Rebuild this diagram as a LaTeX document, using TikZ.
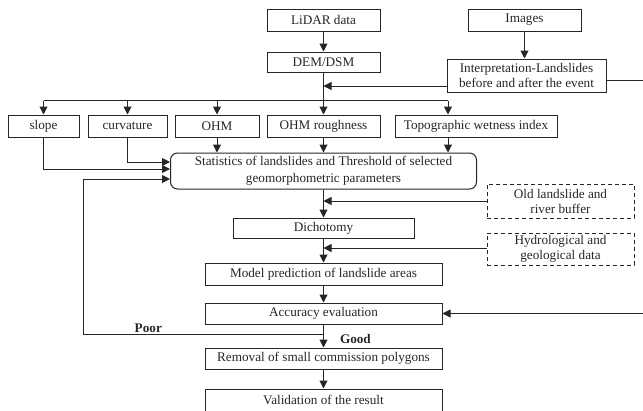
\documentclass[tikz,border=0pt]{standalone}
\usepackage{fontspec}
\setmainfont{Liberation Serif}
\usetikzlibrary{arrows.meta, positioning, calc}

\begin{document}
\begin{tikzpicture}[
    x=1pt, y=-1pt,
    >={Triangle[length=8pt,width=8pt]},
    node distance=20pt and 7pt,
    font=\fontsize{13.2}{15}\selectfont,
    % Standard Box Style
    box/.style={draw=black!85, rectangle, line width=1pt, minimum height=22pt, inner sep=2pt, align=center, text=black!85},
    % Statistics Box Style (rounded)
    roundbox/.style={box, rounded corners=7pt},
    % Auxiliary Data Style (dashed)
    aux/.style={box, dash pattern=on 4pt off 3pt},
    % Connector Styles
    link/.style={line width=1pt, draw=black!85},
    flow/.style={link, ->},
    % Decision Label Style
    lbl/.style={font=\fontsize{13.2}{15}\selectfont\bfseries, text=black!85, inner sep=1pt}
]

\path[use as bounding box, clip] (0,0) rectangle (643,410);

% ================= Nodes =================

% 1. Data sources (Top Row)
\node[box, minimum width=113pt] (lidar) at (323.5,20) {LiDAR data};
\node[box, minimum width=113pt, minimum height=20pt, below=20pt of lidar] (dem) {DEM/DSM};
\node[box, minimum width=113pt] (images) at (524.5,20) {Images};
\node[box, minimum width=159pt, minimum height=33pt, below=27pt of images, xshift=2pt] (interp) {Interpretation-Landslides\\before and after the event};

% 2. Geomorphometric parameters (Second Row)
\node[box, minimum width=113pt] (ohmr) at (323.5,126) {OHM roughness};
\node[box, minimum width=84pt, left=of ohmr] (ohm) {OHM};
\node[box, minimum width=79pt, left=of ohm] (curv) {curvature};
\node[box, minimum width=71pt, left=8pt of curv] (slope) {slope};
\node[box, minimum width=162pt, right=14pt of ohmr] (twi) {Topographic wetness index};

% 3. Main column
\node[roundbox, minimum width=306pt, minimum height=36pt, below=15pt of ohmr] (stats) {Statistics of landslides and Threshold of selected\\[2pt]geomorphometric parameters};
\node[box, minimum width=181pt, minimum height=20pt, below=28pt of stats] (dich) {Dichotomy};
\node[box, minimum width=237pt, below=24pt of dich] (model) {Model prediction of landslide areas};
\node[box, minimum width=237pt, minimum height=21pt, below=17pt of model] (acc) {Accuracy evaluation};
\node[box, minimum width=237pt, minimum height=21pt, below=23pt of acc] (removal) {Removal of small commission polygons};
\node[box, minimum width=237pt, below=19pt of removal] (valid) {Validation of the result};

% 4. Auxiliary data (Right side)
\node[aux, minimum width=147pt, minimum height=34pt] (old) at (560.5,201) {Old landslide and\\river buffer};
\node[aux, minimum width=147pt, minimum height=32pt] (hydro) at (560.5,249) {Hydrological and\\geological data};

% Helper coordinates
\coordinate (bus) at ($(dem.south)+(0,28)$);
\coordinate (twix) at ($(twi.north)+(-28,0)$);
\coordinate (fork) at ($(acc.south)+(0,10)$);
\coordinate (edge) at (660,0);

% ================= Connections =================

% Data preparation
\draw[flow] (lidar) -- (dem);
\draw[flow] (images) -- (images |- interp.north);
\draw[flow] ($(interp.west)+(0,10.5)$) coordinate (in1) -- (in1 -| dem.south);
\draw[flow] (dem) -- (ohmr);

% Distribution to parameters
\draw[link] (bus -| slope) -- (bus -| twix);
\draw[flow] (bus -| slope) -- (slope);
\draw[flow] (bus -| curv) -- (curv);
\draw[flow] (bus -| ohm) -- (ohm);
\draw[flow] (bus -| twix) -- (twix);

% Parameters into statistics
\draw[flow] (slope.south) |- ($(stats.west)+(0,-2)$);
\draw[flow] (curv.south) |- ($(stats.west)+(0,-9)$);
\draw[flow] (ohm) -- (ohm |- stats.north);
\draw[flow] (ohmr) -- (stats);
\draw[flow] (twix |- twi.south) -- (twix |- stats.north);

% Main flow
\draw[flow] (stats) -- (dich);
\draw[flow] (old.west) -- (old.west -| stats.south);
\draw[flow] (dich) -- (model);
\draw[flow] ($(hydro.west)+(0,-1)$) coordinate (in2) -- (in2 -| dich.south);
\draw[flow] (model) -- (acc);
\draw[flow] (acc) -- node[pos=0.62, right=15pt, lbl] {Good} (removal);
\draw[flow] (removal) -- (valid);

% Feedback loop
\draw[flow] (fork) -- node[pos=0.73, above, lbl] {Poor} ++(-240,0) |- ($(stats.west)+(0,8)$);

% Landslide inventory to accuracy evaluation
\draw[flow] ($(interp.east)+(0,4.5)$) coordinate (out1) -- (out1 -| edge) |- (acc.east);

\end{tikzpicture}
\end{document}
